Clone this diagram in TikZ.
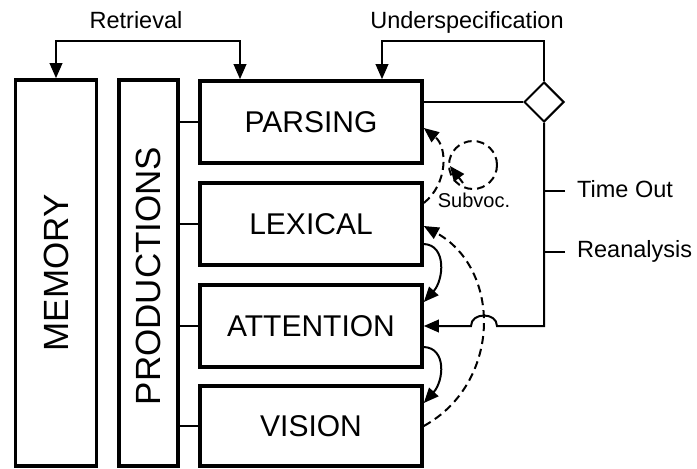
\documentclass[tikz,border=0pt]{standalone}
\usepackage{fontspec}
\setmainfont{Liberation Sans}
\usetikzlibrary{arrows.meta,shapes.geometric}
\begin{document}
\begin{tikzpicture}[x=1pt,y=-1pt,
  box/.style={draw, line width=3.6pt, inner sep=0pt, font=\fontsize{30}{30}\selectfont},
  conn/.style={line width=2pt},
  arr/.style={line width=2pt, -{Triangle[length=15pt,width=12.5pt]}},
  dsh/.style={dash pattern=on 8pt off 5pt},
  lab/.style={font=\fontsize{23.5}{23.5}\selectfont, inner sep=0pt},
  vlab/.style={rotate=90, font=\fontsize{35}{35}\selectfont, inner sep=0pt}]
\useasboundingbox (0,0) rectangle (697,469);
% left columns
\node[box, minimum width=81pt, minimum height=386pt] (mem) at (56,273) {};
\node[vlab] (memtxt) at (mem.center) {MEMORY};
\node[box, minimum width=59pt, minimum height=386pt] (prod) at (148.5,273) {};
\node[vlab] (prodtxt) at ([yshift=-3pt]prod.center) {PRODUCTIONS};
% modules
\node[box, minimum width=222pt, minimum height=82pt] (parse) at (311,122) {PARSING};
\node[box, minimum width=222pt, minimum height=82pt] (lex) at (311,224) {LEXICAL};
\node[box, minimum width=222pt, minimum height=82pt] (att) at (311,326) {ATTENTION};
\node[box, minimum width=222pt, minimum height=80pt] (vis) at (311,426) {VISION};
\foreach \n in {parse,lex,att,vis} \draw[conn] (prod.east |- \n.west) -- (\n.west);
% retrieval
\coordinate (ret) at (148,41);
\draw[arr] (ret) -| (mem.north);
\draw[arr] (ret) -| ([xshift=-71pt]parse.north);
\node[lab, anchor=base] (retlab) at (136,28) {Retrieval};
% diamond and underspecification
\node[diamond, draw, conn, minimum width=40pt, minimum height=40pt, inner sep=0pt, aspect=1] (dia) at (544,102) {};
\draw[conn] (dia.west) -- (dia.west -| parse.east);
\coordinate (us) at (460,41);
\draw[arr] (dia.north) |- (us) -| ([xshift=71pt]parse.north);
\node[lab, anchor=base] (uslab) at (467,28) {Underspecification};
% reanalysis path with hop
\coordinate (hopR) at (497,326);
\coordinate (hopL) at (471,326);
\draw[arr] (dia.south) |- (hopR) .. controls +(0,-14) and +(0,-14) .. (hopL) -- (att.east);
\coordinate (tot) at (565,191);
\draw[conn] (tot) -- (tot -| dia.south);
\coordinate (rat) at (565,252);
\draw[conn] (rat) -- (rat -| dia.south);
\node[lab, anchor=base west] (tolab) at (577,197) {Time Out};
\node[lab, anchor=base west] (ralab) at (577,257) {Reanalysis};
% solid curved arrows
\draw[arr] ([yshift=-20pt]lex.east) .. controls +(23,1) and +(20,-22) .. ([yshift=24pt]att.east);
\draw[arr] ([yshift=-21pt]att.east) .. controls +(23,1) and +(20,-22) .. ([yshift=23pt]vis.east);
% dashed arrows
\draw[arr, dsh] (vis.east) .. controls +(78,-43) and +(78,43) .. ([yshift=-2pt]lex.east);
\draw[arr, dsh] ([yshift=21pt]lex.east) .. controls +(24,-19) and +(24,19) .. ([yshift=-6pt]parse.east);
% subvocalisation loop
\node[circle, draw, conn, dsh, minimum size=48pt, inner sep=0pt] (loop) at (473,165) {};
\draw[arr, dsh] ([shift={(-10,18)}]loop.center) -- ([shift={(-23,1)}]loop.center);
\node[font=\fontsize{20}{20}\selectfont, inner sep=0pt, anchor=base] (sublab) at (474,207) {Subvoc.};
\end{tikzpicture}
\end{document}
